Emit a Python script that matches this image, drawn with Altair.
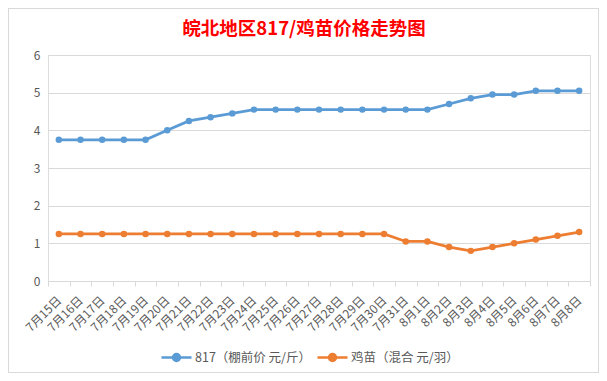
import altair as alt
import pandas as pd

dates = ["7月15日", "7月16日", "7月17日", "7月18日", "7月19日", "7月20日", "7月21日",
         "7月22日", "7月23日", "7月24日", "7月25日", "7月26日", "7月27日", "7月28日",
         "7月29日", "7月30日", "7月31日", "8月1日", "8月2日", "8月3日", "8月4日",
         "8月5日", "8月6日", "8月7日", "8月8日"]
s817 = [3.75, 3.75, 3.75, 3.75, 3.75, 4.0, 4.25, 4.35, 4.45, 4.55, 4.55, 4.55, 4.55,
        4.55, 4.55, 4.55, 4.55, 4.55, 4.7, 4.85, 4.95, 4.95, 5.05, 5.05, 5.05]
chick = [1.25, 1.25, 1.25, 1.25, 1.25, 1.25, 1.25, 1.25, 1.25, 1.25, 1.25, 1.25, 1.25,
         1.25, 1.25, 1.25, 1.05, 1.05, 0.9, 0.8, 0.9, 1.0, 1.1, 1.2, 1.3]
names = ["817（棚前价 元/斤）", "鸡苗（混合 元/羽）"]
colors = ["#5B9BD5", "#ED7D31"]

rows = []
for d, v in zip(dates, s817):
    rows.append({"date": d, "value": v, "series": names[0]})
for d, v in zip(dates, chick):
    rows.append({"date": d, "value": v, "series": names[1]})
df = pd.DataFrame(rows)

FONT = "Noto Sans CJK SC"
r = 0.233
sym = f"M-1,0L1,0M{r},0A{r},{r},0,1,1,-{r},0A{r},{r},0,1,1,{r},0Z"

x_enc = alt.X("date:N", sort=dates, bandPosition=0.5,
              scale=alt.Scale(type="band", paddingInner=0, paddingOuter=0),
              axis=alt.Axis(title=None, labelAngle=-45, labelAlign="right",
                            labelBaseline="middle", labelPadding=12,
                            tickBand="extent", tickSize=5, tickColor="#D9D9D9",
                            domainColor="#D9D9D9", grid=False,
                            labelFont=FONT, labelFontSize=12, labelColor="#595959"))
y_enc = alt.Y("value:Q", scale=alt.Scale(domain=[0, 6], nice=False),
              axis=alt.Axis(title=None, values=[0, 1, 2, 3, 4, 5, 6], domain=False,
                            ticks=False, gridColor="#D9D9D9", labelPadding=8,
                            labelFont=FONT, labelFontSize=12, labelColor="#595959"))
color_enc = alt.Color("series:N", sort=names,
                      scale=alt.Scale(domain=names, range=colors),
                      legend=alt.Legend(title=None, orient="none", direction="horizontal",
                                        legendX=112, legendY=286,
                                        symbolType=sym, symbolSize=900,
                                        symbolStrokeWidth=2.5, columnPadding=0,
                                        labelFont=FONT, labelFontSize=12.5,
                                        labelColor="#595959", labelOffset=2))

lines = alt.Chart(df).mark_line(
    strokeWidth=2.75,
    point=alt.OverlayMarkDef(filled=True, size=42)
).encode(x=x_enc, y=y_enc, color=color_enc)

frame = alt.Chart(df).mark_rect(fill=None, stroke="#D9D9D9", strokeWidth=1).encode(
    x=alt.value(-39.5), x2=alt.value(550.5), y=alt.value(-46.5), y2=alt.value(317.5)
)

chart = alt.layer(frame, lines).properties(
    width=542, height=226,
    title=alt.TitleParams("皖北地区817/鸡苗价格走势图", font=FONT, fontSize=18.5,
                          fontWeight="bold", color="#FF0000", offset=0, dy=30, dx=-15,
                          anchor="middle"),
    autosize=alt.AutoSizeParams(type="none"),
    padding={"left": 40, "top": 47, "right": 9, "bottom": 92},
).configure_view(stroke=None).configure(background="white")

chart.save("out.html", embed_options={"renderer": "svg", "actions": False})
